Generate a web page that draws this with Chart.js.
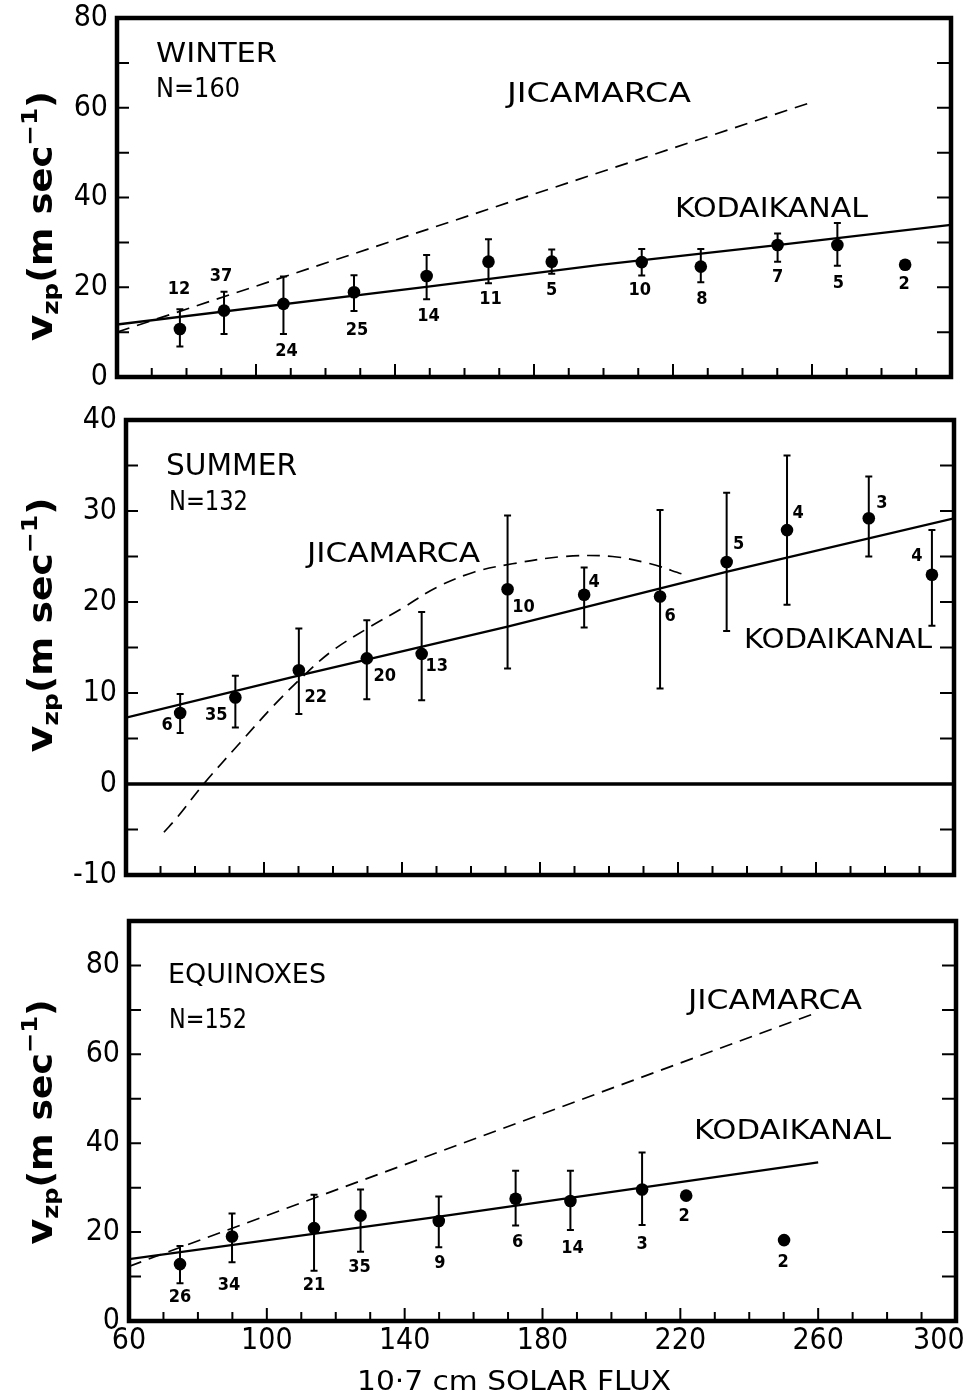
<!DOCTYPE html>
<html><head><meta charset="utf-8">
<script src="https://cdn.jsdelivr.net/npm/chart.js@4/dist/chart.umd.min.js"></script>
<style>
html,body{margin:0;padding:0;background:#fff;}
#wrap{position:relative;width:972px;height:1395px;overflow:hidden;background:#fff;}
canvas{position:absolute;left:0;}
</style></head><body>
<div id="wrap">
<canvas id="c1" width="972" height="400" style="top:0px;width:972px;height:400px"></canvas>
<canvas id="c2" width="972" height="490" style="top:400px;width:972px;height:490px"></canvas>
<canvas id="c3" width="972" height="505" style="top:890px;width:972px;height:505px"></canvas>
</div>
<script>
// ---------------- DATA ----------------
const fluxTicks = [60, 100, 140, 180, 220, 260, 300];

// WINTER
const winterTicks = [0, 20, 40, 60, 80];
const winterFlux = [78.1, 90.8, 107.9, 128.2, 149.1, 166.9, 185.1, 211.0, 228.0, 250.1, 267.3, 286.8];
const winterV    = [10.7, 14.8, 16.3, 18.9, 22.5, 25.7, 25.7, 25.6, 24.6, 29.4, 29.4, 25.0];
const winterHi   = [15.1, 19.0, 22.4, 22.7, 27.2, 30.7, 28.4, 28.5, 28.5, 32.0, 34.3, null];
const winterLo   = [6.8, 9.6, 9.6, 14.7, 17.3, 20.9, 23.0, 22.6, 21.1, 25.7, 24.8, null];
const winterN    = [12, 37, 24, 25, 14, 11, 5, 10, 8, 7, 5, 2];
const winterKodFlux = [60, 149, 199, 250, 300];
const winterKodV    = [11.7, 20.1, 25.0, 29.4, 33.9];
const winterJicFlux = [60, 259];
const winterJicV    = [10.0, 61.0];

// SUMMER
const summerTicks = [-10, 0, 10, 20, 30, 40];
const summerFlux = [75.7, 91.7, 110.1, 129.8, 145.7, 170.6, 192.8, 214.8, 234.1, 251.6, 275.3, 293.6];
const summerV    = [7.8, 9.5, 12.5, 13.8, 14.3, 21.4, 20.8, 20.6, 24.4, 27.9, 29.2, 23.0];
const summerHi   = [9.9, 11.9, 17.1, 18.0, 18.9, 29.5, 23.8, 30.1, 32.0, 36.1, 33.8, 27.9];
const summerLo   = [5.6, 6.2, 7.7, 9.3, 9.2, 12.7, 17.2, 10.5, 16.8, 19.7, 25.0, 17.4];
const summerN    = [6, 35, 22, 20, 13, 10, 4, 6, 5, 4, 3, 4];
const summerKodFlux = [60, 110, 170.6, 234, 300];
const summerKodV    = [7.3, 11.9, 17.3, 23.3, 29.2];
const summerJicFlux = [71, 75, 82.5, 93, 103, 112.6, 120, 130, 140, 150, 161, 172, 187, 201, 212, 221];
const summerJicV    = [-5.3, -3.6, 0, 4.5, 8.7, 12.3, 14.7, 17.1, 19.3, 21.6, 23.3, 24.2, 25.0, 25.0, 24.2, 23.1];

// EQUINOXES
const equinoxTicks = [0, 20, 40, 60, 80];
const equinoxFlux = [74.8, 89.9, 113.7, 127.2, 149.9, 172.2, 188.1, 208.9, 221.7, 250.1];
const equinoxV    = [12.8, 19.0, 20.9, 23.7, 22.5, 27.5, 27.0, 29.6, 28.2, 18.2];
const equinoxHi   = [16.9, 24.2, 28.4, 29.6, 28.0, 33.8, 33.8, 37.9, null, null];
const equinoxLo   = [8.5, 13.2, 11.3, 15.6, 16.6, 21.5, 20.5, 21.6, null, null];
const equinoxN    = [26, 34, 21, 35, 9, 6, 14, 3, 2, 2];
const equinoxKodFlux = [60, 150, 260];
const equinoxKodV    = [13.9, 23.5, 35.7];
const equinoxJicFlux = [60, 260];
const equinoxJicV    = [12.3, 69.5];

// ---------------- LAYOUT (pixel offsets of count labels, text boxes) ----------------
const winterLabelOff  = [[-1,-40],[-3,-34],[3,47],[3,38],[2,40],[2,38],[0,29],[-2,28],[1,33],[0,32],[1,38],[-1,20]];
const summerLabelOff  = [[-13,12],[-19,18],[17,27],[18,18],[15,12],[16,18],[10,-12],[10,20],[12,-18],[11,-17],[13,-15],[-15,-18]];
const equinoxLabelOff = [[0,33],[-3,49],[0,57],[-1,52],[1,42],[2,44],[2,47],[0,55],[-2,21],[-1,22]];

const FONT = '"DejaVu Sans Condensed", "Liberation Sans Narrow", "DejaVu Sans", sans-serif';

function pts(xs, ys) { return xs.map((x, i) => ({x: x, y: ys[i]})); }

function fitText(ctx, text, x0, x1, capTop, capBot, weight) {
  const size = (capBot - capTop) / 0.73;
  ctx.save();
  ctx.font = (weight || 'normal') + ' ' + size.toFixed(1) + 'px ' + FONT;
  ctx.textAlign = 'left';
  ctx.textBaseline = 'alphabetic';
  const w = ctx.measureText(text).width;
  ctx.translate(x0, capBot);
  ctx.scale((x1 - x0) / w, 1);
  ctx.fillStyle = '#000';
  ctx.fillText(text, 0, 0);
  ctx.restore();
}

function drawVzp(ctx, baseX, centerY, length) {
  const parts = [
    {t: 'v', size: 36, dy: 0},
    {t: 'zp', size: 22, dy: 6},
    {t: '(m sec', size: 33, dy: 0},
    {t: '\u22121', size: 22, dy: -15},
    {t: ')', size: 33, dy: 0}
  ];
  ctx.save();
  ctx.fillStyle = '#000';
  ctx.textBaseline = 'alphabetic';
  ctx.textAlign = 'left';
  let total = 0;
  parts.forEach(p => { ctx.font = 'bold ' + p.size + 'px ' + FONT; p.w = ctx.measureText(p.t).width; total += p.w; });
  ctx.translate(baseX, centerY);
  ctx.rotate(-Math.PI / 2);
  ctx.scale(length / total, 1);
  let x = -total / 2;
  parts.forEach(p => { ctx.font = 'bold ' + p.size + 'px ' + FONT; ctx.fillText(p.t, x, p.dy); x += p.w; });
  ctx.restore();
}

function makePanelPlugin(p) {
  return {
    id: 'panel_' + p.id,
    beforeDatasetsDraw(chart) {
      const {ctx, scales: {x, y}, chartArea: a} = chart;
      ctx.save();
      ctx.strokeStyle = '#000';
      ctx.lineWidth = 2;
      if (p.zeroLine) {
        const py = y.getPixelForValue(0);
        ctx.lineWidth = 3.5;
        ctx.beginPath(); ctx.moveTo(a.left, py); ctx.lineTo(a.right, py); ctx.stroke();
        ctx.lineWidth = 2;
      }
      p.flux.forEach((f, i) => {
        if (p.hi[i] == null) return;
        const px = x.getPixelForValue(f);
        const yh = y.getPixelForValue(p.hi[i]);
        const yl = y.getPixelForValue(p.lo[i]);
        ctx.beginPath();
        ctx.moveTo(px, yh); ctx.lineTo(px, yl);
        ctx.moveTo(px - 3.5, yh); ctx.lineTo(px + 3.5, yh);
        ctx.moveTo(px - 3.5, yl); ctx.lineTo(px + 3.5, yl);
        ctx.stroke();
      });
      ctx.restore();
    },
    afterDraw(chart) {
      const {ctx, scales: {x, y}, chartArea: a} = chart;
      const top = chart.canvas.offsetTop;
      ctx.save();
      ctx.strokeStyle = '#000';
      ctx.fillStyle = '#000';
      ctx.lineWidth = 2;
      ctx.beginPath();
      for (let v = 70; v < 300; v += 10) {
        const px = x.getPixelForValue(v);
        const len = ((v - 60) % 40 === 0) ? 13 : 9;
        ctx.moveTo(px, a.bottom); ctx.lineTo(px, a.bottom - len);
      }
      for (let v = p.yMin + p.yStep; v < p.yMax; v += p.yStep) {
        const py = y.getPixelForValue(v);
        ctx.moveTo(a.left, py); ctx.lineTo(a.left + 12, py);
        ctx.moveTo(a.right, py); ctx.lineTo(a.right - 14, py);
      }
      ctx.stroke();
      ctx.lineWidth = 4.5;
      ctx.strokeRect(a.left, a.top, a.right - a.left, a.bottom - a.top);
      ctx.font = 'bold 18px ' + FONT;
      ctx.textAlign = 'center';
      ctx.textBaseline = 'middle';
      p.flux.forEach((f, i) => {
        const px = x.getPixelForValue(f) + p.off[i][0];
        const py = y.getPixelForValue(p.v[i]) + p.off[i][1];
        ctx.fillText(String(p.n[i]), px, py);
      });
      ctx.restore();
      p.texts.forEach(t => fitText(ctx, t[0], t[1], t[2], t[3] - top, t[4] - top));
      drawVzp(ctx, 52, p.yLabelCenter - top, p.yLabelLen);
      if (p.xTitle) fitText(ctx, '10\u00b77 cm SOLAR FLUX', 357, 671, 1370 - top, 1390 - top);
    }
  };
}

function makeChart(id, p) {
  const tickFont = {family: FONT, size: 30, lineHeight: 1};
  return new Chart(document.getElementById(id), {
    type: 'scatter',
    data: {
      datasets: [
        {data: pts(p.kodFlux, p.kodV), showLine: true, borderColor: '#000', borderWidth: 2.3, pointRadius: 0, fill: false, tension: 0},
        {data: pts(p.jicFlux, p.jicV), showLine: true, borderColor: '#000', borderWidth: 1.7, borderDash: [13, 8], pointRadius: 0, fill: false, tension: p.jicTension},
        {data: pts(p.flux, p.v), showLine: false, pointRadius: 6.3, pointBackgroundColor: '#000', pointBorderColor: '#000', pointBorderWidth: 0}
      ]
    },
    options: {
      responsive: false, animation: false, devicePixelRatio: 1,
      layout: {padding: {left: 0, right: p.padR, top: p.padT, bottom: 0}},
      plugins: {legend: {display: false}, tooltip: {enabled: false}},
      events: [],
      scales: {
        x: {
          type: 'linear', min: 60, max: 300,
          afterBuildTicks: s => { s.ticks = fluxTicks.map(v => ({value: v})); },
          ticks: {display: p.showX, color: '#000', font: tickFont, padding: 5, maxRotation: 0, minRotation: 0, autoSkip: false,
                  callback: v => v === 300 ? '300\u2007\u2007' : String(v)},
          grid: {display: false, drawTicks: false}, border: {display: false},
          afterFit: s => { s.height = p.xH; s.paddingLeft = 0; s.paddingRight = 0; s.paddingTop = 0; s.paddingBottom = 0; }
        },
        y: {
          type: 'linear', min: p.yMin, max: p.yMax,
          afterBuildTicks: s => { s.ticks = p.yTicks.map(v => ({value: v})); },
          ticks: {color: '#000', font: tickFont, padding: 9, callback: v => String(v)},
          grid: {display: false, drawTicks: false}, border: {display: false},
          afterFit: s => { s.width = p.yW; s.paddingTop = 0; s.paddingBottom = 0; s.paddingLeft = 0; s.paddingRight = 0; }
        }
      }
    },
    plugins: [makePanelPlugin(p)]
  });
}

makeChart('c1', {
  id: 1, padR: 21, padT: 18, xH: 23, yW: 117, yMin: 0, yMax: 80, yStep: 10, yTicks: winterTicks, showX: false,
  flux: winterFlux, v: winterV, hi: winterHi, lo: winterLo, n: winterN, off: winterLabelOff,
  kodFlux: winterKodFlux, kodV: winterKodV, jicFlux: winterJicFlux, jicV: winterJicV, jicTension: 0,
  zeroLine: false, yLabelCenter: 216, yLabelLen: 250, xTitle: false,
  texts: [['WINTER', 156, 277, 42, 62], ['N=160', 156, 240, 77, 97], ['JICAMARCA', 507, 691, 82, 102], ['KODAIKANAL', 675, 868, 197, 217]]
});
makeChart('c2', {
  id: 2, padR: 18, padT: 20, xH: 15, yW: 126, yMin: -10, yMax: 40, yStep: 5, yTicks: summerTicks, showX: false,
  flux: summerFlux, v: summerV, hi: summerHi, lo: summerLo, n: summerN, off: summerLabelOff,
  kodFlux: summerKodFlux, kodV: summerKodV, jicFlux: summerJicFlux, jicV: summerJicV, jicTension: 0.35,
  zeroLine: true, yLabelCenter: 625, yLabelLen: 255, xTitle: false,
  texts: [['SUMMER', 166, 297, 453, 475], ['N=132', 169, 248, 490, 510], ['JICAMARCA', 307, 480, 542, 562], ['KODAIKANAL', 744, 932, 628, 648]]
});
makeChart('c3', {
  id: 3, padR: 16, padT: 31, xH: 74, yW: 129, yMin: 0, yMax: 90, yStep: 10, yTicks: equinoxTicks, showX: true,
  flux: equinoxFlux, v: equinoxV, hi: equinoxHi, lo: equinoxLo, n: equinoxN, off: equinoxLabelOff,
  kodFlux: equinoxKodFlux, kodV: equinoxKodV, jicFlux: equinoxJicFlux, jicV: equinoxJicV, jicTension: 0,
  zeroLine: false, yLabelCenter: 1122, yLabelLen: 245, xTitle: true,
  texts: [['EQUINOXES', 168, 326, 963, 983], ['N=152', 169, 247, 1008, 1028], ['JICAMARCA', 688, 862, 990, 1009], ['KODAIKANAL', 694, 891, 1120, 1139]]
});
</script>
</body></html>
